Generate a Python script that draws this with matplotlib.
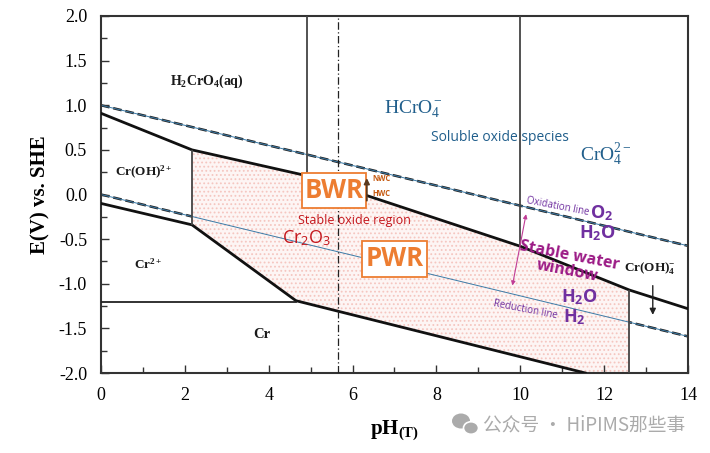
import matplotlib
matplotlib.use("Agg")
import matplotlib.pyplot as plt
import matplotlib.ticker as ticker
from matplotlib.patches import Rectangle, Ellipse
from matplotlib.transforms import IdentityTransform
import numpy as np

plt.rcParams["mathtext.fontset"] = "custom"
plt.rcParams["mathtext.rm"] = "Liberation Serif"
plt.rcParams["mathtext.it"] = "Liberation Serif:italic"
plt.rcParams["mathtext.bf"] = "Liberation Serif:bold"
plt.rcParams["mathtext.sf"] = "Open Sans:bold"
plt.rcParams["mathtext.tt"] = "Open Sans"
plt.rcParams["hatch.linewidth"] = 0.8

SERIF = ["Liberation Serif", "DejaVu Serif"]
SANS = ["Open Sans", "DejaVu Sans"]

# water stability lines (O2/H2O and H2O/H2) at temperature
ph_water = [0, 14]
e_oxidation = [1.00, -0.575]
e_reduction = [0.00, -1.59]

# Cr2O3 upper boundary (soluble oxides above)
ph_upper = [0, 2.17, 4.91, 10.0, 12.6, 14.0]
e_upper = [0.91, 0.50, 0.21, -0.58, -1.07, -1.28]

# Cr2O3 / Cr(II) / Cr lower boundary
ph_lower = [0, 2.17, 4.65, 11.55]
e_lower = [-0.10, -0.34, -1.19, -2.00]

# Cr / Cr2+ horizontal line
ph_cr = [0, 4.65]
e_cr = [-1.20, -1.20]

# vertical species boundaries: pH, E bottom, E top
vert_ph = [2.17, 4.91, 10.0, 12.6]
vert_lo = [-0.34, 0.21, -0.58, -2.00]
vert_hi = [0.50, 2.00, 2.00, -1.07]

ph_neutral = 5.66  # neutral pH at temperature

x_ticks = [0, 2, 4, 6, 8, 10, 12, 14]
y_ticks = [-2.0, -1.5, -1.0, -0.5, 0.0, 0.5, 1.0, 1.5, 2.0]

fig = plt.figure(figsize=(7.1, 4.53), dpi=100)
ax = fig.add_axes([101 / 710, 1 - 373 / 453, 587 / 710, 357 / 453])

# stable oxide region polygon (built from the boundary arrays)
i0 = 1
i1 = 4
poly_x = ph_upper[i0:i1 + 1] + [vert_ph[3], ph_lower[-1]] + ph_lower[1:][::-1][1:]
poly_y = e_upper[i0:i1 + 1] + [vert_lo[3], e_lower[-1]] + e_lower[1:][::-1][1:]
ax.fill(poly_x, poly_y, facecolor="#fdf5f4", edgecolor="#f5c6c0",
        hatch="....", linewidth=0, zorder=1)

# water lines: black dashes with thin blue overlay
for ys in (e_oxidation, e_reduction):
    ax.plot(ph_water, ys, color="#222222", lw=1.8, ls=(0, (3.5, 1.5)), zorder=0.5)
    ax.plot(ph_water, ys, color="#3b7aa6", lw=0.7, zorder=2)

# species boundaries
ax.plot(ph_upper, e_upper, color="#111111", lw=2.0, zorder=3)
ax.plot(ph_lower, e_lower, color="#111111", lw=2.0, zorder=3)
ax.plot(ph_cr, e_cr, color="#222222", lw=1.3, zorder=3)
ax.vlines(vert_ph, vert_lo, vert_hi, color="#444444", lw=1.3, zorder=3)
ax.axvline(ph_neutral, color="#222222", lw=0.9, ls=(0, (6, 2, 1, 2)), zorder=3)

ax.set_xlim(0, 14)
ax.set_ylim(-2, 2)
ax.set_xticks(x_ticks)
ax.set_yticks(y_ticks)
ax.xaxis.set_minor_locator(ticker.MultipleLocator(1))
ax.yaxis.set_minor_locator(ticker.MultipleLocator(0.25))
ax.yaxis.set_major_formatter(ticker.FormatStrFormatter("%.1f"))
ax.tick_params(which="both", direction="in", top=False, right=False,
               labelsize=13, pad=10, color="#333333", width=1.0)
ax.tick_params(which="major", length=6)
ax.tick_params(which="minor", length=4)
for lab in ax.get_xticklabels() + ax.get_yticklabels():
    lab.set_fontfamily(SERIF)
for sp in ax.spines.values():
    sp.set_linewidth(1.5)
    sp.set_color("#333333")

ax.set_ylabel("E(V) vs. SHE", family=SERIF, fontsize=15, fontweight="bold", labelpad=6)
ax.set_xlabel(r"pH$_\mathbf{(T)}$", family=SERIF, fontsize=15, fontweight="bold", labelpad=10)

# species labels (original diagram)
sp_kw = dict(family=SERIF, fontweight="bold", color="#1a1a1a", ha="center", va="center")
ax.text(2.52, 1.27, r"H$_\mathbf{2}$CrO$_\mathbf{4}$(aq)", fontsize=10, **sp_kw)
ax.text(1.03, 0.25, r"Cr(OH)$^\mathbf{2+}$", fontsize=9.5, **sp_kw)
ax.text(1.13, -0.78, r"Cr$^\mathbf{2+}$", fontsize=9.5, **sp_kw)
ax.text(3.84, -1.57, "Cr", fontsize=10.5, **sp_kw)
ax.text(13.1, -0.82, r"Cr(OH)$_\mathbf{4}^\mathbf{-}$", fontsize=9.5, **sp_kw)
ax.annotate("", xy=(13.16, -1.38), xytext=(13.16, -0.99),
            arrowprops=dict(arrowstyle="-|>", color="#222222", lw=1.0, mutation_scale=9),
            zorder=4)

blue = "#215f8c"
ax.text(7.46, 0.95, r"HCrO$_4^-$", family=SERIF, fontsize=14, color=blue, ha="center", va="center")
ax.text(12.04, 0.44, r"CrO$_4^{2-}$", family=SERIF, fontsize=14, color=blue, ha="center", va="center")
ax.text(9.52, 0.64, "Soluble oxide species", family=SANS, fontsize=10, color=blue,
        ha="center", va="center")

# reactor boxes
orange = "#ed7d31"
for (x0, y0, x1, y1), name in [((4.79, -0.155, 6.32, 0.244), "BWR"),
                               ((6.22, -0.921, 7.78, -0.518), "PWR")]:
    ax.add_patch(Rectangle((x0, y0), x1 - x0, y1 - y0, facecolor="white",
                           edgecolor=orange, lw=1.3, zorder=5))
    ax.text((x0 + x1) / 2, (y0 + y1) / 2, name, family=SANS, fontsize=18.5,
            fontweight="bold", color=orange, ha="center", va="center", zorder=6)

ax.annotate("", xy=(6.34, 0.215), xytext=(6.34, -0.10),
            arrowprops=dict(arrowstyle="-|>", color="#5b3a1e", lw=1.3, mutation_scale=8),
            zorder=6)
ax.text(6.47, 0.18, "NWC", family=SANS, fontsize=5.5, fontweight="bold",
        color="#c55a11", ha="left", va="center")
ax.text(6.47, 0.015, "HWC", family=SANS, fontsize=5.5, fontweight="bold",
        color="#c55a11", ha="left", va="center")

red = "#c4161c"
ax.text(6.05, -0.29, "Stable oxide region", family=SANS, fontsize=9, color=red,
        ha="center", va="center", zorder=6)
ax.text(4.9, -0.49, r"Cr$_\mathtt{2}$O$_\mathtt{3}$", family=SANS, fontsize=13, color=red,
        ha="center", va="center", zorder=6)

# water window annotations
purple = "#7030a0"
magenta = "#9c1b86"
ax.text(10.9, -0.14, "Oxidation line", family=SANS, fontsize=7, color=purple,
        rotation=-11, ha="center", va="center", rotation_mode="anchor")
ax.text(10.11, -1.29, "Reduction line", family=SANS, fontsize=7, color=purple,
        rotation=-11, ha="center", va="center", rotation_mode="anchor")
ax.text(11.94, -0.21, r"O$_\mathsf{2}$", family=SANS, fontsize=13, fontweight="bold",
        color=purple, ha="center", va="center")
ax.text(11.85, -0.43, r"H$_\mathsf{2}$O", family=SANS, fontsize=13, fontweight="bold",
        color=purple, ha="center", va="center")
ax.text(11.42, -1.15, r"H$_\mathsf{2}$O", family=SANS, fontsize=13, fontweight="bold",
        color=purple, ha="center", va="center")
ax.text(11.3, -1.37, r"H$_\mathsf{2}$", family=SANS, fontsize=13, fontweight="bold",
        color=purple, ha="center", va="center")
ax.text(11.15, -0.77, "Stable water\nwindow", family=SANS, fontsize=11.5, fontweight="bold",
        color=magenta, rotation=-11, ha="center", va="center", rotation_mode="anchor",
        linespacing=0.95, zorder=6)
ax.annotate("", xy=(10.15, -0.19), xytext=(9.80, -1.05),
            arrowprops=dict(arrowstyle="<|-|>", color="#c03c96", lw=0.8, mutation_scale=6),
            zorder=6)

# watermark
wm = "#ababab"
pix = IdentityTransform()
fig.patches.append(Ellipse((461, 32), 18, 15, facecolor=wm, edgecolor="none", transform=pix))
fig.patches.append(Ellipse((471, 25), 15, 12.5, facecolor=wm, edgecolor="white", lw=1.2,
                           transform=pix))
fig.text(483 / 710, 1 - 425 / 453, "公众号 · HiPIMS那些事", fontsize=13.5, color=wm,
         family=["Noto Sans CJK SC", "DejaVu Sans"], ha="left", va="center")

fig.savefig("out.png", dpi=100)
